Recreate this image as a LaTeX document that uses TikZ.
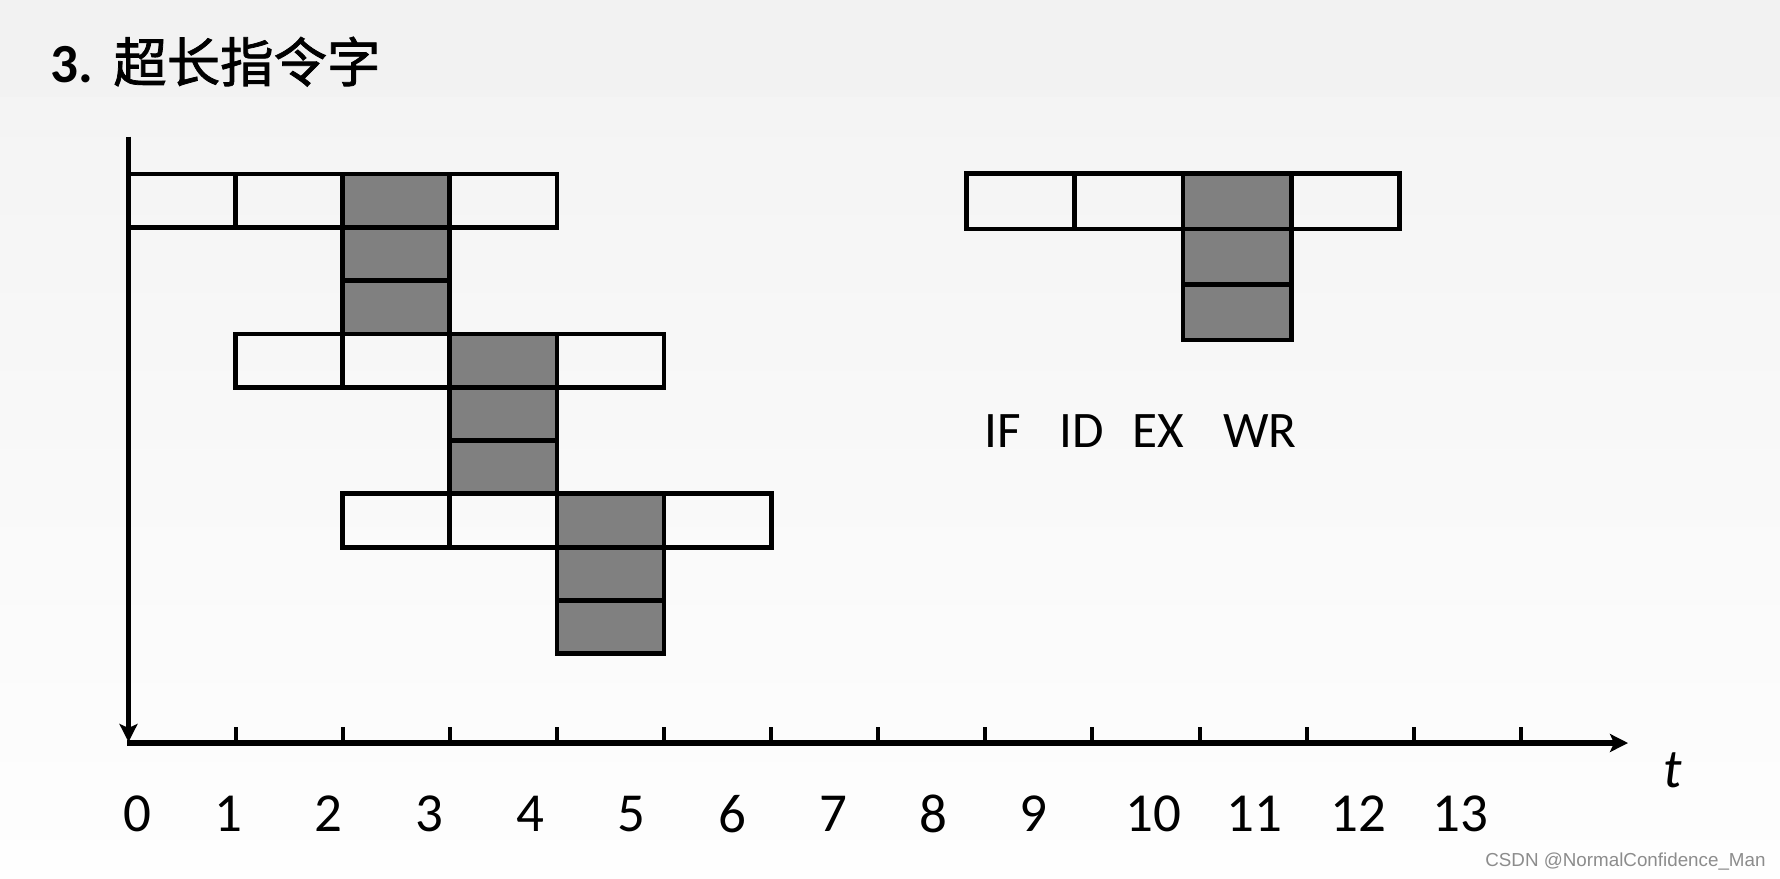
\documentclass[tikz,border=0pt]{standalone}
\usepackage{fontspec}
\setmainfont{Carlito}
\newfontfamily\cjkfont[FakeBold=1.4]{Noto Sans CJK SC}
\newfontfamily\wmfont{Liberation Sans}
\usetikzlibrary{arrows.meta}
\definecolor{bgtop}{HTML}{F2F2F2}
\definecolor{bgmid}{HTML}{F4F4F4}
\definecolor{bgbot}{HTML}{FEFEFE}
\definecolor{cellgray}{HTML}{808080}
\definecolor{wmgray}{HTML}{8C8C8C}
\begin{document}
\begin{tikzpicture}[x=0.5pt,y=-0.5pt,
  cellbox/.style={draw=black,line width=2.4pt,minimum width=53.55pt,minimum height=26.65pt,inner sep=0pt,outer sep=0pt,anchor=north west},
  shadebox/.style={cellbox,fill=cellgray},
  rcellbox/.style={cellbox,minimum width=54.1pt,minimum height=27.75pt},
  rshadebox/.style={rcellbox,fill=cellgray},
  stagelabel/.style={inner sep=0pt,font=\fontsize{25.6}{30}\selectfont},
  ticklabel/.style={inner sep=0pt,font=\fontsize{27.5}{32}\selectfont},
  axisline/.style={line width=2.4pt},
  haxisline/.style={line width=3pt},
  tickline/.style={line width=2pt},
  arrowtip/.style={-{Stealth[length=9pt,width=9pt,inset=2pt]}}]
\useasboundingbox (0,0) rectangle (1780,878);
% background
\fill[bgtop] (0,0) rectangle (1780,97);
\shade[top color=bgmid,bottom color=bgbot] (0,97) rectangle (1780,878);

% title
\node[anchor=base west,inner sep=0pt,font=\fontsize{27.6}{32}\selectfont\bfseries] (tnum) at (50,82) {3.};
\node[anchor=base west,inner sep=0pt,font=\fontsize{26.7}{32}\selectfont\cjkfont] (ttext) at (113,82) {超长指令字};

% left group, row 1
\node[cellbox] (a0) at (128.5,174) {};
\node[cellbox] (a1) at (235.6,174) {};
\node[shadebox] (a2) at (342.7,174) {};
\node[cellbox] (a3) at (449.8,174) {};
\node[shadebox] (a2b) at (342.7,227.3) {};
\node[shadebox] (a2c) at (342.7,280.6) {};
% row 2
\node[cellbox] (b1) at (235.6,333.9) {};
\node[cellbox] (b2) at (342.7,333.9) {};
\node[shadebox] (b3) at (449.8,333.9) {};
\node[cellbox] (b4) at (556.9,333.9) {};
\node[shadebox] (b3b) at (449.8,387.2) {};
\node[shadebox] (b3c) at (449.8,440.5) {};
% row 3
\node[cellbox] (c2) at (342.7,493.8) {};
\node[cellbox] (c3) at (449.8,493.8) {};
\node[shadebox] (c4) at (556.9,493.8) {};
\node[cellbox] (c5) at (664.0,493.8) {};
\node[shadebox] (c4b) at (556.9,547.1) {};
\node[shadebox] (c4c) at (556.9,600.4) {};

% right group
\node[rcellbox] (r0) at (966.5,173.5) {};
\node[rcellbox] (r1) at (1074.7,173.5) {};
\node[rshadebox] (r2) at (1182.9,173.5) {};
\node[rcellbox] (r3) at (1291.1,173.5) {};
\node[rshadebox] (r2b) at (1182.9,229) {};
\node[rshadebox] (r2c) at (1182.9,284.5) {};

% stage labels
\node[stagelabel] (lif) at (1003,431.5) {IF};
\node[stagelabel] (lid) at (1082,431.5) {ID};
\node[stagelabel] (lex) at (1158,431.5) {EX};
\node[stagelabel] (lwr) at (1260,431.5) {WR};

% axes
\coordinate (ytop) at (128.5,136.7);
\coordinate (ybot) at (128.5,742);
\coordinate (orig) at (127,743);
\coordinate (xend) at (1628,743);
\draw[axisline,arrowtip] (ytop) -- (ybot);
\draw[haxisline,arrowtip] (orig) -- (xend);
\foreach \k in {1,...,13}{
  \coordinate (tb\k) at ({128.5+107.1*\k},743);
  \coordinate (tt\k) at ({128.5+107.1*\k},727);
  \draw[tickline] (tb\k) -- (tt\k);
}
\node[inner sep=0pt,font=\fontsize{27.5}{32}\selectfont\itshape] (tlab) at (1673,770) {t};

% tick labels
\node[ticklabel] (n0) at (137.5,814) {0};
\node[ticklabel] (n1) at (228.3,814) {1};
\node[ticklabel] (n2) at (328,814) {2};
\node[ticklabel] (n3) at (429,814) {3};
\node[ticklabel] (n4) at (530,814) {4};
\node[ticklabel] (n5) at (631,814) {5};
\node[ticklabel] (n6) at (732,814) {6};
\node[ticklabel] (n7) at (833,814) {7};
\node[ticklabel] (n8) at (933,814) {8};
\node[ticklabel] (n9) at (1033,814) {9};
\node[ticklabel] (n10) at (1153,814) {10};
\node[ticklabel] (n11) at (1254,814) {11};
\node[ticklabel] (n12) at (1358,814) {12};
\node[ticklabel] (n13) at (1460,814) {13};

% watermark
\node[anchor=base east,inner sep=0pt,text=wmgray,font=\fontsize{9.4}{11}\selectfont\wmfont] (wm) at (1766,866.5) {CSDN @NormalConfidence\_Man};
\end{tikzpicture}
\end{document}
